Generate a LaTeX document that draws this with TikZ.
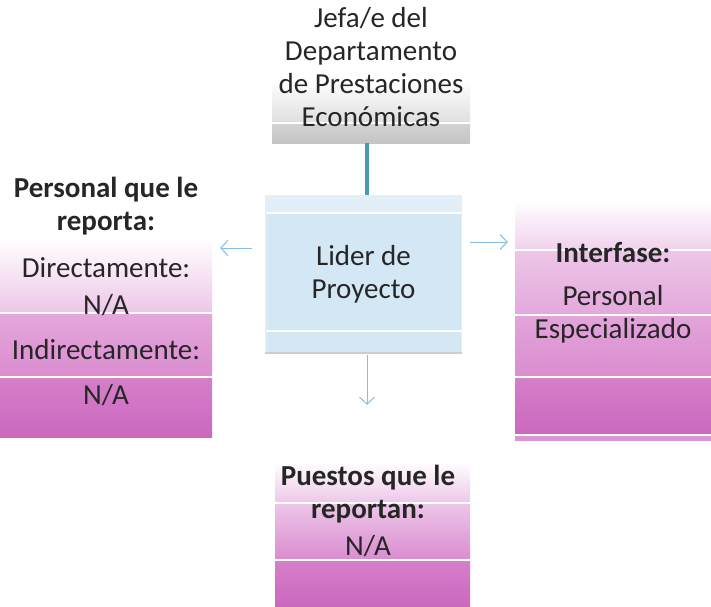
\documentclass[tikz,border=0pt]{standalone}
\usepackage{fontspec}
\setmainfont{Carlito}
\usetikzlibrary{arrows.meta}
\definecolor{txt}{HTML}{262626}
\definecolor{pk0}{HTML}{FBF0FA}
\definecolor{pk1}{HTML}{EDC6E8}
\definecolor{pk2}{HTML}{E4A8DC}
\definecolor{pk3}{HTML}{DA8CCF}
\definecolor{pk4}{HTML}{D57FCA}
\definecolor{pk5}{HTML}{CB68BE}
\definecolor{bl}{HTML}{D4E7F5}
\definecolor{bll}{HTML}{E2EFF9}
\definecolor{gy}{HTML}{C4C4C4}
\definecolor{teal}{HTML}{4A9AAF}
\definecolor{arr}{HTML}{86BCE0}
\tikzset{
  lbl/.style={text=txt, font=\fontsize{29}{33}\selectfont, align=center, inner sep=0pt},
  ttl/.style={lbl, font=\fontsize{29}{33}\selectfont\bfseries},
  area/.style={draw=none, inner sep=0pt},
  conn/.style={draw=arr, line width=1pt, -{Straight Barb[length=7pt,width=15pt,line width=1pt]}},
  band/.style={draw=white, line width=2.5pt},
}
\begin{document}
\begin{tikzpicture}[x=1pt,y=-1pt]
\useasboundingbox (0,0) rectangle (711,606);
% ---- top gray box
\shade[top color=white, bottom color=gy!55] (272,80) rectangle (470,123);
\shade[top color=gy!75, bottom color=gy] (272,123) rectangle (470,143);
\draw[white, line width=1.5pt] (272,123) -- (470,123);
\node[area, minimum width=198pt, minimum height=143pt] (jefa) at (371,71.5) {};
\node[lbl] (jefat) at (371,67) {Jefa/e del\\Departamento\\de Prestaciones\\Económicas};
% ---- center blue box
\fill[bl] (265,195) rectangle (462,353);
\fill[bll] (265,195) rectangle (462,212);
\draw[white, line width=1.2pt] (265,213) -- (462,213);
\draw[white, line width=1.2pt] (265,331) -- (462,331);
\draw[bll, line width=1.5pt] (265.75,195.75) rectangle (461.25,352.25);
\draw[gy!70!bl, line width=1.5pt] (265,353) -- (462,353);
\node[area, minimum width=197pt, minimum height=158pt] (lider) at (363.5,274) {};
\node[lbl] (lidert) at (363.5,274) {Lider de\\Proyecto};
% ---- left pink box
\shade[top color=white, bottom color=pk1] (0,238) rectangle (212,313);
\shade[top color=pk2, bottom color=pk3] (0,313) rectangle (212,377);
\shade[top color=pk4, bottom color=pk5] (0,377) rectangle (212,437);
\draw[band] (0,313) -- (212,313);
\draw[band] (0,377) -- (212,377);
\node[area, minimum width=212pt, minimum height=199pt] (izq) at (106,338) {};
\node[ttl] (izqt) at (106,206) {Personal que le\\reporta:};
\node[lbl] (dir) at (106,268) {Directamente:};
\node[lbl] (dirna) at (106,305) {N/A};
\node[lbl] (ind) at (106,350) {Indirectamente:};
\node[lbl] (indna) at (106,395) {N/A};
% ---- right pink box
\shade[top color=white, bottom color=pk1!80] (515,200) rectangle (711,250);
\shade[top color=pk1, bottom color=pk2] (515,250) rectangle (711,315);
\shade[top color=pk2!90!pk3, bottom color=pk3] (515,315) rectangle (711,377);
\shade[top color=pk4, bottom color=pk5] (515,377) rectangle (711,435);
\fill[pk5!70!white] (515,435) rectangle (711,441);
\draw[band] (515,250) -- (711,250);
\draw[band] (515,315) -- (711,315);
\draw[band] (515,377) -- (711,377);
\draw[band] (515,435) -- (711,435);
\node[area, minimum width=196pt, minimum height=241pt] (der) at (613,320.5) {};
\node[ttl] (dert) at (613,253) {Interfase:};
\node[lbl] (derp) at (613,314) {Personal\\Especializado};
% ---- bottom pink box
\shade[top color=white, bottom color=pk1] (275,462) rectangle (470,503);
\shade[top color=pk1, bottom color=pk3] (275,503) rectangle (470,560);
\shade[top color=pk4, bottom color=pk5] (275,560) rectangle (470,606);
\draw[band] (275,503) -- (470,503);
\draw[band] (275,560) -- (470,560);
\node[area, minimum width=195pt, minimum height=144pt] (abajo) at (372.5,534) {};
\node[ttl] (abajot) at (368,494) {Puestos que le\\reportan:};
\node[lbl] (abajona) at (368,546) {N/A};
% ---- connectors
\draw[teal, line width=3.5pt] (jefa.south -| 367,0) -- (lider.north -| 367,0);
\draw[conn, shorten <=13pt, shorten >=8pt] ([yshift=26pt]lider.west) -- ([yshift=26pt]lider.west -| izq.east);
\draw[conn, shorten <=8pt, shorten >=7pt] ([yshift=32pt]lider.east) -- ([yshift=32pt]lider.east -| der.west);
\draw[conn, shorten <=2pt, shorten >=57pt] (lider.south -| 367,0) -- (abajo.north -| 367,0);
\end{tikzpicture}
\end{document}
